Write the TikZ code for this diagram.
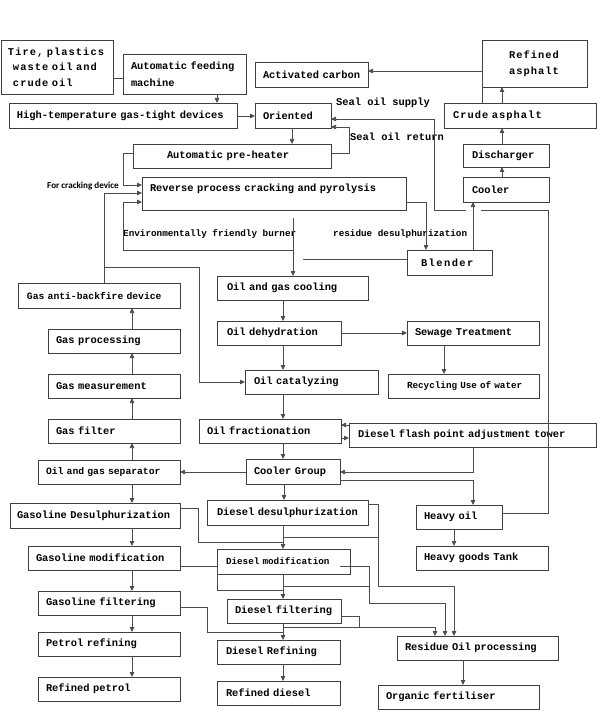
\documentclass[tikz,border=0pt]{standalone}
\usepackage{fontspec}
\usetikzlibrary{arrows.meta}
\newfontfamily\mymono{Liberation Mono}
\newfontfamily\myspaced[LetterSpace=10]{Liberation Mono}
\newfontfamily\myspacedb[LetterSpace=14]{Liberation Mono}
\newfontfamily\mycarl{Carlito}
\newcommand\fntA{\mymono\bfseries\fontsize{10.4}{12}\selectfont}
\newcommand\fntAl{\mymono\bfseries\fontsize{10.4}{17}\selectfont}
\newcommand\fntB{\mymono\bfseries\fontsize{9.3}{11}\selectfont}
\newcommand\fntC{\mymono\bfseries\fontsize{9.7}{11}\selectfont}
\newcommand\fntS{\myspaced\bfseries\fontsize{10.4}{15.5}\selectfont}
\newcommand\fntSb{\myspacedb\bfseries\fontsize{10.4}{12}\selectfont}
\newcommand\fntCarl{\mycarl\bfseries\fontsize{9.1}{11}\selectfont}
\tikzset{
  bx/.style={draw=black!75, line width=0.9pt, anchor=north west, inner xsep=0pt, inner ysep=0pt, outer sep=0pt, align=left},
  cn/.style={draw=black!70, line width=0.75pt},
  ar/.style={cn, -{Triangle[length=5pt,width=4.5pt]}},
  lbl/.style={anchor=west, inner sep=0pt},
}
% name, x1, y1, x2, y2, pad, font, text
\newcommand\bx[8]{%
  \pgfmathsetmacro\bxw{#4-#2}\pgfmathsetmacro\bxh{#5-#3}%
  \node[bx, text width=\bxw pt, minimum height=\bxh pt, font=#7] (#1) at (#2,#3) {\leftskip=#6pt\relax #8\par};}
\begin{document}
\begin{tikzpicture}[x=1pt,y=-1pt]
\useasboundingbox (0,0) rectangle (600,714);
% ---- boxes ----
\bx{tire}{1}{40}{113}{94}{7}{\fntS}{Tire, plastics\\\hspace*{5pt}waste oil and\\\hspace*{5pt}crude oil}
\bx{feed}{123}{54}{246}{94}{8}{\fntAl}{Automatic feeding\\machine}
\bx{hightemp}{9}{103}{237}{128}{8}{\fntA}{High-temperature gas-tight devices}
\bx{oriented}{255}{103}{331}{128}{8}{\fntA}{Oriented}
\bx{actc}{255}{62}{368}{87}{8}{\fntA}{Activated carbon}
\bx{refasph}{482}{40}{587}{87}{27}{\fntS}{Refined\\asphalt}
\bx{crude}{444}{103}{596}{128}{9}{\fntS}{Crude asphalt}
\bx{disch}{463}{144}{549}{167}{9}{\fntA}{Discharger}
\bx{cooler}{463}{177}{549}{202}{9}{\fntA}{Cooler}
\bx{preheat}{133}{144}{331}{168}{34}{\fntA}{Automatic pre-heater}
\bx{reverse}{142}{177}{406}{210}{8}{\fntA}{\raisebox{2.5pt}[0pt][0pt]{Reverse process cracking and pyrolysis}}
\bx{blender}{407}{250}{492}{275}{14}{\fntSb}{Blender}
\bx{oilcool}{217}{276}{368}{300}{10}{\fntA}{Oil and gas cooling}
\bx{antib}{18}{283}{180}{308}{9}{\fntC}{Gas anti-backfire device}
\bx{gasproc}{48}{329}{180}{353}{8}{\fntA}{Gas processing}
\bx{gasmeas}{48}{374}{180}{398}{8}{\fntA}{Gas measurement}
\bx{gasfilt}{48}{419}{180}{443}{8}{\fntA}{Gas filter}
\bx{dehyd}{217}{321}{341}{345}{10}{\fntA}{Oil dehydration}
\bx{sewage}{407}{321}{539}{345}{8}{\fntA}{Sewage Treatment}
\bx{recyc}{388}{374}{539}{398}{19}{\fntB}{Recycling Use of water}
\bx{catal}{245}{370}{378}{394}{9}{\fntA}{Oil catalyzing}
\bx{fract}{199}{419}{341}{443}{8}{\fntA}{Oil fractionation}
\bx{flash}{349}{423}{596}{447}{9}{\fntA}{Diesel flash point adjustment tower}
\bx{sep}{38}{460}{180}{484}{8}{\fntC}{Oil and gas separator}
\bx{coolgrp}{246}{459}{340}{484}{8}{\fntA}{Cooler Group}
\bx{heavy}{416}{505}{502}{529}{8}{\fntA}{Heavy oil}
\bx{htank}{416}{546}{548}{570}{8}{\fntA}{Heavy goods Tank}
\bx{gdesul}{10}{503}{180}{528}{7}{\fntA}{Gasoline Desulphurization}
\bx{ddesul}{207}{500}{368}{525}{10}{\fntA}{Diesel desulphurization}
\bx{gmod}{28}{546}{180}{570}{8}{\fntA}{Gasoline modification}
\bx{dmod}{217}{549}{350}{574}{9}{\fntB}{Diesel modification}
\bx{gfilt}{38}{591}{180}{615}{8}{\fntA}{Gasoline filtering}
\bx{dfilt}{227}{599}{341}{623}{8}{\fntA}{Diesel filtering}
\bx{petref}{38}{632}{180}{656}{8}{\fntA}{Petrol refining}
\bx{drefine}{217}{640}{340}{664}{9}{\fntA}{Diesel Refining}
\bx{residue}{397}{636}{558}{660}{8}{\fntA}{Residue Oil processing}
\bx{refpet}{38}{677}{180}{701}{8}{\fntA}{Refined petrol}
\bx{refdie}{217}{681}{340}{705}{9}{\fntA}{Refined diesel}
\bx{organic}{378}{685}{539}{709}{8}{\fntA}{Organic fertiliser}
% ---- labels ----
\node[lbl, font=\fntA] (supply) at (336,102.5) {Seal oil supply};
\node[lbl, font=\fntA] (sreturn) at (350,137) {Seal oil return};
\node[lbl, font=\fntCarl] (crack) at (47,186) {For cracking device};
\node[lbl, font=\fntB] (burner) at (123,234) {Environmentally friendly burner};
\node[lbl, font=\fntB] (resdes) at (333,234) {residue desulphurization};
% ---- connectors: top ----
\draw[cn] (tire.east |- 0,78) -- (feed.west |- 0,78);
\draw[ar] (feed.south -| 217,0) -- (hightemp.north -| 217,0);
\draw[ar] (hightemp.east |- 0,116) -- (oriented.west |- 0,116);
\draw[ar] (oriented.south -| 292,0) -- (preheat.north -| 292,0);
\draw[ar] (crude.north -| 482,0) -- (482,71) -- (actc.east |- 0,71);
\draw[ar] (crude.north -| 502,0) -- (refasph.south -| 502,0);
\draw[ar] (disch.north -| 502,0) -- (crude.south -| 502,0);
\draw[ar] (cooler.north -| 502,0) -- (disch.south -| 502,0);
\draw[ar] (blender.north -| 473,0) -- (cooler.south -| 473,0);
\draw[ar] (reverse.east |- 0,202) -- (426,202) -- (blender.north -| 426,0);
\coordinate (bl) at (303,259);
\draw[cn] (blender.west |- bl) -- (bl);
\coordinate (rv) at (293,218);
\draw[ar] (rv) -- (oilcool.north -| rv);
\draw[ar] (293,250) -- (123,250) -- (123,202) -- (reverse.west |- 0,202);
\draw[ar] (preheat.west |- 0,153) -- (123,153) -- (123,185) -- (reverse.west |- 0,185);
\draw[ar] (antib.north -| 104,0) -- (104,193) -- (reverse.west |- 0,193);
\draw[ar] (104,267) -- (199,267) -- (199,382) -- (catal.west |- 0,382);
\draw[ar] (preheat.east |- 0,153) -- (349,153) -- (349,127) -- (oriented.east |- 0,127);
\draw[ar] (heavy.east |- 0,513) -- (548,513) -- (548,210) -- (481,210) (466,210) -- (434,210) -- (434,119) -- (oriented.east |- 0,119);
% ---- connectors: middle ----
\draw[ar] (gasproc.north -| 132,0) -- (antib.south -| 132,0);
\draw[ar] (gasmeas.north -| 132,0) -- (gasproc.south -| 132,0);
\draw[ar] (gasfilt.north -| 132,0) -- (gasmeas.south -| 132,0);
\draw[ar] (sep.north -| 132,0) -- (gasfilt.south -| 132,0);
\draw[ar] (oilcool.south -| 283,0) -- (dehyd.north -| 283,0);
\draw[ar] (dehyd.south -| 283,0) -- (catal.north -| 283,0);
\draw[ar] (catal.south -| 283,0) -- (fract.north -| 283,0);
\draw[ar] (fract.south -| 283,0) -- (coolgrp.north -| 283,0);
\draw[ar] (coolgrp.south -| 284,0) -- (ddesul.north -| 284,0);
\draw[ar] (dehyd.east |- 0,333) -- (sewage.west |- 0,333);
\draw[ar] (sewage.south -| 444,0) -- (recyc.north -| 444,0);
\draw[ar] (flash.west |- 0,425) -- (fract.east |- 0,425);
\draw[ar] (fract.east |- 0,438) -- (flash.west |- 0,438);
\draw[ar] (flash.south -| 473,0) -- (473,472) -- (coolgrp.east |- 0,472);
\draw[ar] (coolgrp.west |- 0,472) -- (sep.east |- 0,472);
\draw[ar] (coolgrp.east |- 0,480) -- (473,480) -- (heavy.north -| 473,0);
\draw[ar] (heavy.south -| 454,0) -- (htank.north -| 454,0);
% ---- connectors: bottom ----
\draw[ar] (sep.south -| 132,0) -- (gdesul.north -| 132,0);
\draw[ar] (gdesul.south -| 132,0) -- (gmod.north -| 132,0);
\draw[ar] (gmod.south -| 132,0) -- (gfilt.north -| 132,0);
\draw[ar] (gfilt.south -| 132,0) -- (petref.north -| 132,0);
\draw[ar] (petref.south -| 132,0) -- (refpet.north -| 132,0);
\draw[cn] (gdesul.east |- 0,508) -- (198,508) -- (198,542) -- (283,542);
\draw[ar] (ddesul.east |- 0,504) -- (378,504) -- (378,586) -- (454,586) -- (residue.north -| 454,0);
\draw[cn] (378,537) -- (283,537);
\draw[ar] (ddesul.south -| 283,0) -- (dmod.north -| 283,0);
\draw[cn] (gmod.east |- 0,566) -- (dmod.west |- 0,566) -- (dmod.west |- 0,590) -- (283,590);
\draw[ar] (dmod.south -| 283,0) -- (dfilt.north -| 283,0);
\coordinate (dm) at (340,566);
\draw[ar] (dm) -- (369,566) -- (369,603) -- (445,603) -- (residue.north -| 445,0);
\draw[cn] (283,586) -- (369,586);
\draw[ar] (dfilt.east |- 0,616) -- (359,616) -- (359,627) -- (435,627) -- (residue.north -| 435,0);
\draw[cn] (283,627) -- (359,627);
\draw[cn] (gfilt.east |- 0,607) -- (207,607) -- (207,632) -- (283,632);
\draw[ar] (dfilt.south -| 283,0) -- (drefine.north -| 283,0);
\draw[ar] (drefine.south -| 283,0) -- (refdie.north -| 283,0);
\draw[ar] (residue.south -| 463,0) -- (organic.north -| 463,0);
\end{tikzpicture}
\end{document}
